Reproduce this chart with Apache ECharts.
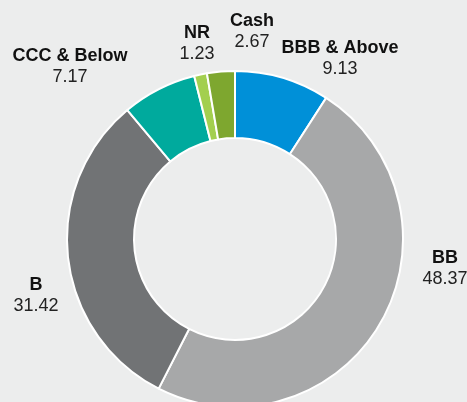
<!DOCTYPE html>
<html>
<head>
<meta charset="utf-8">
<script src="https://cdn.jsdelivr.net/npm/echarts@6/dist/echarts.min.js"></script>
<style>
html,body{margin:0;padding:0;background:#eceded;}
#c{width:467px;height:402px;}
</style>
</head>
<body>
<div id="c"></div>
<script>
const categories = ["BBB & Above", "BB", "B", "CCC & Below", "NR", "Cash"];
const values = [9.13, 48.37, 31.42, 7.17, 1.23, 2.67];
const colors = ["#0090d8", "#a7a8a9", "#717375", "#00aa9d", "#a3cf4f", "#7ea72f"];
// label block centers (layout only)
const labelPos = [[340, 59], [445, 269], [36, 296], [70, 67], [197, 44], [252, 32]];

const chart = echarts.init(document.getElementById('c'));
chart.setOption({
  backgroundColor: '#eceded',
  animation: false,
  series: [{
    type: 'pie',
    center: [235, 239],
    radius: [101, 168],
    startAngle: 90,
    clockwise: true,
    itemStyle: { borderColor: '#ffffff', borderWidth: 2 },
    label: {
      show: true,
      position: 'inside',
      overflow: 'none',
      formatter: '{n|{b}}\n{v|{c}}',
      rich: {
        n: { fontFamily: 'Liberation Sans', fontWeight: 'bold', fontSize: 18, color: '#111', lineHeight: 21, align: 'center' },
        v: { fontFamily: 'Liberation Sans', fontSize: 18, color: '#222', lineHeight: 21, align: 'center' }
      }
    },
    labelLine: { show: false },
    labelLayout: function (p) {
      const pos = labelPos[p.dataIndex];
      return { x: pos[0], y: pos[1], align: 'center', verticalAlign: 'middle', hideOverlap: false };
    },
    emphasis: { disabled: true },
    data: categories.map((c, i) => ({ name: c, value: values[i], itemStyle: { color: colors[i] } }))
  }]
});
</script>
</body>
</html>
